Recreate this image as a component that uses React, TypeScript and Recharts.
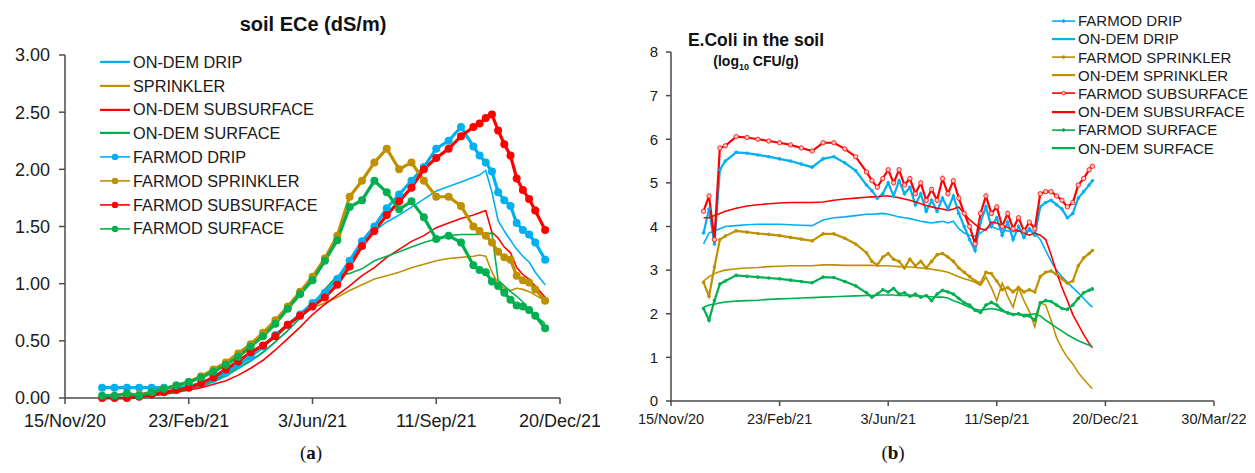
import React from 'react';
import { LineChart, Line, XAxis, YAxis } from 'recharts';

const FONT = '"Liberation Sans", Arial, sans-serif';
const BLUE = '#00B0F0';
const GOLD = '#BF9000';
const RED = '#FF0000';
const GREEN = '#00B050';
const AXIS = '#4a4a4a';

// ---- (a) soil ECe, dS/m  (day 0 = 15 Nov 2020) ----
const daysA = [30, 40, 50, 60, 70, 80, 90, 100, 110, 120, 130, 140, 150, 160, 170, 180, 190, 200, 210, 220, 230, 240, 250, 260, 270, 280, 290, 300, 310, 320, 330, 335, 340, 345, 350, 355, 360, 365, 370, 375, 380, 388];
const ecOnDemDrip = [0, 0, 0, 0.01, 0.02, 0.04, 0.06, 0.08, 0.10, 0.14, 0.19, 0.26, 0.32, 0.40, 0.49, 0.59, 0.70, 0.79, 0.88, 1.00, 1.15, 1.32, 1.46, 1.54, 1.60, 1.67, 1.74, 1.81, 1.85, 1.89, 1.93, 1.95, 1.99, 1.80, 1.55, 1.46, 1.38, 1.30, 1.24, 1.19, 1.10, 0.99];
const ecSprinkler = [0, 0, 0, 0.01, 0.02, 0.04, 0.06, 0.08, 0.12, 0.16, 0.21, 0.28, 0.36, 0.44, 0.55, 0.65, 0.73, 0.79, 0.83, 0.88, 0.94, 0.99, 1.04, 1.07, 1.10, 1.14, 1.17, 1.20, 1.22, 1.23, 1.24, 1.25, 1.24, 1.10, 1.00, 0.96, 0.94, 0.96, 0.95, 0.93, 0.90, 0.85];
const ecOnDemSub = [0, 0, 0, 0.01, 0.02, 0.03, 0.05, 0.07, 0.09, 0.12, 0.15, 0.20, 0.26, 0.33, 0.42, 0.52, 0.62, 0.73, 0.82, 0.90, 0.98, 1.07, 1.14, 1.23, 1.30, 1.37, 1.42, 1.49, 1.53, 1.57, 1.60, 1.62, 1.64, 1.45, 1.40, 1.32, 1.27, 1.14, 1.08, 1.04, 0.98, 0.88];
const ecOnDemSurf = [0, 0, 0, 0.01, 0.02, 0.04, 0.06, 0.08, 0.11, 0.15, 0.20, 0.26, 0.33, 0.40, 0.49, 0.59, 0.70, 0.82, 0.95, 1.07, 1.09, 1.13, 1.20, 1.24, 1.28, 1.32, 1.36, 1.39, 1.42, 1.43, 1.43, 1.43, 1.44, 1.44, 1.03, 0.98, 0.93, 0.89, 0.84, 0.77, 0.72, 0.65];
const ecFarmodDrip = [0.09, 0.09, 0.09, 0.09, 0.09, 0.09, 0.09, 0.10, 0.13, 0.17, 0.22, 0.29, 0.36, 0.45, 0.55, 0.64, 0.73, 0.83, 0.92, 1.04, 1.20, 1.37, 1.50, 1.66, 1.78, 1.90, 2.02, 2.18, 2.25, 2.37, 2.20, 2.12, 2.06, 1.98, 1.80, 1.73, 1.68, 1.53, 1.47, 1.43, 1.36, 1.21];
const ecFarmodSprinkler = [null, null, 0.01, 0.03, 0.05, 0.08, 0.11, 0.14, 0.19, 0.25, 0.31, 0.39, 0.47, 0.57, 0.68, 0.80, 0.93, 1.06, 1.22, 1.42, 1.76, 1.90, 2.06, 2.18, 2.00, 2.06, 1.90, 1.76, 1.76, 1.68, 1.50, 1.46, 1.42, 1.36, 1.28, 1.23, 1.21, 1.07, 1.03, 1.01, 0.95, 0.85];
const ecFarmodSub = [0, 0, 0, 0.01, 0.03, 0.05, 0.07, 0.09, 0.13, 0.18, 0.25, 0.32, 0.40, 0.46, 0.54, 0.64, 0.72, 0.80, 0.88, 0.99, 1.15, 1.33, 1.46, 1.60, 1.72, 1.84, 2.00, 2.10, 2.18, 2.29, 2.37, 2.40, 2.45, 2.48, 2.34, 2.22, 2.12, 1.92, 1.82, 1.74, 1.64, 1.47];
const ecFarmodSurf = [0.02, 0.02, 0.04, 0.02, 0.05, 0.08, 0.11, 0.14, 0.18, 0.23, 0.29, 0.36, 0.45, 0.54, 0.65, 0.78, 0.91, 1.03, 1.20, 1.38, 1.67, 1.73, 1.90, 1.80, 1.65, 1.72, 1.58, 1.39, 1.42, 1.36, 1.16, 1.12, 1.10, 1.02, 0.98, 0.92, 0.86, 0.81, 0.80, 0.77, 0.72, 0.61];

const ticksA = [0, 100, 200, 300, 400];
const tickLabelsA = ['15/Nov/20', '23/Feb/21', '3/Jun/21', '11/Sep/21', '20/Dec/21'];
const yTicksA = [0, 0.5, 1, 1.5, 2, 2.5, 3];

// ---- (b) E.Coli in the soil, log10 CFU/g ----
const daysB = [30, 35, 40, 45, 50, 60, 70, 80, 90, 100, 110, 120, 130, 140, 150, 160, 170, 180, 185, 190, 195, 200, 205, 210, 215, 220, 225, 230, 235, 240, 245, 250, 255, 260, 265, 270, 275, 280, 285, 290, 295, 300, 305, 310, 315, 320, 325, 330, 335, 340, 345, 350, 355, 360, 365, 370, 375, 380, 385, 388];
const coliFarmodDrip = [3.85, 4.4, 3.6, 5.3, 5.5, 5.70, 5.68, 5.64, 5.60, 5.55, 5.50, 5.43, 5.36, 5.55, 5.60, 5.46, 5.28, 4.95, 4.82, 4.65, 4.75, 5.0, 4.7, 5.05, 4.75, 4.9, 4.5, 4.75, 4.35, 4.6, 4.35, 4.65, 4.4, 4.7, 4.3, 4.0, 3.7, 3.45, 4.1, 4.45, 4.0, 4.2, 3.8, 4.1, 3.7, 4.0, 3.75, 3.95, 3.8, 4.45, 4.55, 4.6, 4.5, 4.4, 4.2, 4.3, 4.65, 4.8, 4.95, 5.05];
const coliOnDemDrip = [3.6, 3.85, 3.9, 3.95, 4.0, 4.02, 4.04, 4.05, 4.05, 4.05, 4.04, 4.03, 4.02, 4.15, 4.2, 4.22, 4.25, 4.28, 4.28, 4.29, 4.3, 4.28, 4.25, 4.22, 4.2, 4.18, 4.15, 4.12, 4.1, 4.08, 4.1, 4.12, 4.08, 4.12, 3.95, 3.85, 3.8, 3.78, 3.85, 3.95, 4.0, 3.95, 3.92, 3.9, 3.88, 3.9, 3.92, 3.9, 3.85, 3.7, 3.45, 3.2, 3.0, 2.85, 2.72, 2.6, 2.48, 2.35, 2.22, 2.15];
const coliFarmodSprinkler = [2.72, 2.4, 3.07, 3.7, 3.78, 3.9, 3.87, 3.84, 3.82, 3.79, 3.75, 3.71, 3.67, 3.83, 3.83, 3.73, 3.6, 3.4, 3.2, 3.12, 3.3, 3.38, 3.25, 3.2, 3.05, 3.25, 3.1, 3.2, 3.05, 3.2, 3.35, 3.38, 3.3, 3.2, 3.05, 2.95, 2.85, 2.75, 2.7, 2.95, 2.92, 2.75, 2.55, 2.6, 2.5, 2.6, 2.5, 2.55, 2.5, 2.85, 2.95, 2.98, 2.9, 2.8, 2.7, 2.75, 3.1, 3.28, 3.38, 3.45];
const coliOnDemSprinkler = [2.75, 2.85, 2.92, 2.97, 3.0, 3.03, 3.05, 3.06, 3.08, 3.09, 3.1, 3.1, 3.1, 3.12, 3.12, 3.11, 3.11, 3.11, 3.11, 3.1, 3.1, 3.1, 3.09, 3.08, 3.07, 3.07, 3.06, 3.05, 3.04, 3.02, 3.0, 2.98, 2.95, 2.9, 2.85, 2.8, 2.77, 2.72, 2.65, 2.84, 2.6, 2.3, 2.7, 2.4, 2.15, 2.6, 2.3, 2.05, 1.7, 2.25, 2.2, 1.85, 1.45, 1.2, 1.0, 0.85, 0.65, 0.5, 0.36, 0.28];
const coliFarmodSub = [4.35, 4.7, 3.7, 5.8, 5.85, 6.06, 6.04, 6.0, 5.96, 5.92, 5.87, 5.80, 5.73, 5.92, 5.92, 5.78, 5.60, 5.25, 5.05, 4.9, 5.1, 5.3, 5.0, 5.3, 4.95, 5.1, 4.75, 5.0, 4.6, 4.85, 4.6, 5.1, 4.75, 5.05, 4.65, 4.3, 4.0, 3.6, 4.3, 4.7, 4.3, 4.45, 4.0, 4.3, 3.95, 4.2, 3.9, 4.1, 3.95, 4.75, 4.8, 4.8, 4.7, 4.6, 4.45, 4.55, 4.95, 5.1, 5.3, 5.38];
const coliOnDemSub = [4.2, 4.2, 4.25, 4.3, 4.35, 4.42, 4.47, 4.5, 4.52, 4.54, 4.55, 4.55, 4.55, 4.56, 4.6, 4.63, 4.65, 4.67, 4.68, 4.68, 4.7, 4.7, 4.68, 4.66, 4.63, 4.6, 4.56, 4.52, 4.48, 4.45, 4.42, 4.4, 4.37, 4.4, 4.45, 4.3, 4.15, 4.05, 3.95, 3.92, 4.1, 4.08, 4.02, 3.98, 3.92, 3.9, 3.85, 3.8, 3.85, 3.8, 3.7, 3.35, 2.95, 2.6, 2.3, 1.98, 1.75, 1.52, 1.32, 1.22];
const coliFarmodSurf = [2.12, 1.85, 2.3, 2.68, 2.75, 2.88, 2.86, 2.84, 2.82, 2.8, 2.77, 2.74, 2.71, 2.84, 2.83, 2.74, 2.64, 2.48, 2.38, 2.45, 2.55, 2.5, 2.58, 2.45, 2.48, 2.4, 2.45, 2.38, 2.42, 2.3, 2.45, 2.54, 2.5, 2.45, 2.35, 2.25, 2.2, 2.08, 2.03, 2.2, 2.26, 2.2, 2.08, 2.02, 1.98, 2.0, 1.95, 1.95, 1.85, 2.25, 2.3, 2.28, 2.2, 2.12, 2.1, 2.2, 2.35, 2.48, 2.54, 2.57];
const coliOnDemSurf = [2.15, 2.2, 2.22, 2.25, 2.27, 2.29, 2.3, 2.31, 2.33, 2.34, 2.35, 2.36, 2.37, 2.38, 2.39, 2.4, 2.41, 2.42, 2.42, 2.43, 2.43, 2.43, 2.43, 2.42, 2.42, 2.42, 2.41, 2.4, 2.4, 2.39, 2.38, 2.38, 2.36, 2.3, 2.26, 2.2, 2.15, 2.1, 2.08, 2.1, 2.12, 2.1, 2.06, 2.02, 2.0, 1.98, 1.98, 1.98, 2.0, 1.95, 1.85, 1.77, 1.68, 1.6, 1.52, 1.45, 1.38, 1.33, 1.28, 1.25];

const ticksB = [0, 100, 200, 300, 400, 500];
const tickLabelsB = ['15/Nov/20', '23/Feb/21', '3/Jun/21', '11/Sep/21', '20/Dec/21', '30/Mar/22'];
const yTicksB = [0, 1, 2, 3, 4, 5, 6, 7, 8];

type Series = { key: string; name: string; color: string; farmod: boolean; values: (number | null)[] };

const seriesA: Series[] = [
  { key: 'od', name: 'ON-DEM DRIP', color: BLUE, farmod: false, values: ecOnDemDrip },
  { key: 'sp', name: 'SPRINKLER', color: GOLD, farmod: false, values: ecSprinkler },
  { key: 'os', name: 'ON-DEM SUBSURFACE', color: RED, farmod: false, values: ecOnDemSub },
  { key: 'osu', name: 'ON-DEM SURFACE', color: GREEN, farmod: false, values: ecOnDemSurf },
  { key: 'fd', name: 'FARMOD DRIP', color: BLUE, farmod: true, values: ecFarmodDrip },
  { key: 'fsp', name: 'FARMOD SPRINKLER', color: GOLD, farmod: true, values: ecFarmodSprinkler },
  { key: 'fs', name: 'FARMOD SUBSURFACE', color: RED, farmod: true, values: ecFarmodSub },
  { key: 'fsu', name: 'FARMOD SURFACE', color: GREEN, farmod: true, values: ecFarmodSurf },
];

const seriesB: Series[] = [
  { key: 'fd', name: 'FARMOD DRIP', color: BLUE, farmod: true, values: coliFarmodDrip },
  { key: 'od', name: 'ON-DEM DRIP', color: BLUE, farmod: false, values: coliOnDemDrip },
  { key: 'fsp', name: 'FARMOD SPRINKLER', color: GOLD, farmod: true, values: coliFarmodSprinkler },
  { key: 'osp', name: 'ON-DEM SPRINKLER', color: GOLD, farmod: false, values: coliOnDemSprinkler },
  { key: 'fs', name: 'FARMOD SUBSURFACE', color: RED, farmod: true, values: coliFarmodSub },
  { key: 'os', name: 'ON-DEM SUBSURFACE', color: RED, farmod: false, values: coliOnDemSub },
  { key: 'fsu', name: 'FARMOD SURFACE', color: GREEN, farmod: true, values: coliFarmodSurf },
  { key: 'osu', name: 'ON-DEM SURFACE', color: GREEN, farmod: false, values: coliOnDemSurf },
];

const buildRows = (days: number[], series: Series[]) =>
  days.map((day, i) => {
    const row: Record<string, number | null> = { day };
    series.forEach((s) => (row[s.key] = s.values[i]));
    return row;
  });

const rowsA = buildRows(daysA, seriesA);
const rowsB = buildRows(daysB, seriesB);

// legend drawn beside the plot: line sample + optional marker + name
function SeriesKey({ items, left, top, rowH, fontSize, lineLen, markerR, hollowRed }: {
  items: Series[]; left: number; top: number; rowH: number; fontSize: number; lineLen: number; markerR: number; hollowRed?: boolean;
}) {
  return (
    <div style={{ position: 'absolute', left, top, fontFamily: FONT, fontSize, color: '#1a1a1a' }}>
      {items.map((s, i) => (
        <div key={s.key} style={{ position: 'absolute', left: 0, top: i * rowH, height: rowH, display: 'flex', alignItems: 'center', whiteSpace: 'nowrap' }}>
          <svg width={lineLen} height={rowH} style={{ display: 'block' }}>
            <line x1={0} x2={lineLen} y1={rowH / 2} y2={rowH / 2} stroke={s.color} strokeWidth={s.farmod ? 1.6 : 2.2} />
            {s.farmod && (hollowRed && s.color === RED ? (
              <circle cx={lineLen / 2} cy={rowH / 2} r={markerR} fill="#ffc0c0" stroke={s.color} strokeWidth={0.8} />
            ) : (
              <circle cx={lineLen / 2} cy={rowH / 2} r={markerR} fill={s.color} />
            ))}
          </svg>
          <span style={{ marginLeft: 3, lineHeight: 1 }}>{s.name}</span>
        </div>
      ))}
    </div>
  );
}

export default function App() {
  return (
    <div style={{ position: 'absolute', left: 0, top: 0, width: 1255, height: 473, background: '#fff', fontFamily: FONT }}>
      {/* (a) */}
      <div style={{ position: 'absolute', left: 0, top: 0 }}>
        <LineChart width={600} height={440} data={rowsA} margin={{ top: 55, right: 40, left: 0, bottom: 12 }}>
          <XAxis
            dataKey="day" type="number" domain={[0, 400]} ticks={ticksA} interval={0} height={30}
            tickFormatter={(v: number) => tickLabelsA[ticksA.indexOf(v)]}
            tick={{ fontSize: 18, fill: '#1a1a1a', fontFamily: FONT }}
            axisLine={{ stroke: AXIS, strokeWidth: 1.5 }} tickLine={{ stroke: AXIS, strokeWidth: 1.5 }}
            tickSize={6} tickMargin={10}
          />
          <YAxis
            type="number" domain={[0, 3]} ticks={yTicksA} interval={0} width={65}
            tickFormatter={(v: number) => v.toFixed(2)}
            tick={{ fontSize: 18, fill: '#1a1a1a', fontFamily: FONT }}
            axisLine={{ stroke: AXIS, strokeWidth: 1.5 }} tickLine={{ stroke: AXIS, strokeWidth: 1.5 }}
            tickSize={6} tickMargin={9}
          />
          {seriesA.map((s) => (
            <Line
              key={s.key} dataKey={s.key} name={s.name} stroke={s.color} type="linear"
              strokeWidth={s.farmod ? 3.2 : 1.6}
              dot={s.farmod ? { r: 4, fill: s.color, stroke: s.color, strokeWidth: 0 } : false}
              activeDot={false} isAnimationActive={false}
            />
          ))}
        </LineChart>
        <SeriesKey items={seriesA} left={100} top={50} rowH={23.8} fontSize={16.3} lineLen={30} markerR={3.2} />
        <div style={{ position: 'absolute', left: 163, width: 300, top: 14, textAlign: 'center', fontSize: 20, lineHeight: '20px', fontWeight: 700, color: '#111' }}>
          soil ECe (dS/m)
        </div>
      </div>

      {/* (b) */}
      <div style={{ position: 'absolute', left: 600, top: 0 }}>
        <LineChart width={655} height={440} data={rowsB} margin={{ top: 52, right: 41, left: 0, bottom: 9 }}>
          <XAxis
            dataKey="day" type="number" domain={[0, 500]} ticks={ticksB} interval={0} height={30}
            tickFormatter={(v: number) => tickLabelsB[ticksB.indexOf(v)]}
            tick={{ fontSize: 14.5, fill: '#1a1a1a', fontFamily: FONT }}
            axisLine={{ stroke: AXIS, strokeWidth: 1.5 }} tickLine={{ stroke: AXIS, strokeWidth: 1.5 }}
            tickSize={5} tickMargin={8}
          />
          <YAxis
            type="number" domain={[0, 8]} ticks={yTicksB} interval={0} width={71}
            tick={{ fontSize: 15, fill: '#1a1a1a', fontFamily: FONT }}
            axisLine={{ stroke: AXIS, strokeWidth: 1.5 }} tickLine={{ stroke: AXIS, strokeWidth: 1.5 }}
            tickSize={5} tickMargin={8}
          />
          {seriesB.map((s) => (
            <Line
              key={s.key} dataKey={s.key} name={s.name} stroke={s.color} type="linear"
              strokeWidth={s.farmod ? 2.2 : 1.6}
              dot={
                s.farmod
                  ? s.color === RED
                    ? { r: 2.2, fill: '#ffc0c0', stroke: s.color, strokeWidth: 0.8 }
                    : { r: 1.8, fill: s.color, stroke: s.color, strokeWidth: 0 }
                  : false
              }
              activeDot={false} isAnimationActive={false}
            />
          ))}
        </LineChart>
        <SeriesKey items={seriesB} left={452} top={11.6} rowH={18.2} fontSize={15} lineLen={23} markerR={1.8} hollowRed />
        <div style={{ position: 'absolute', left: 56, width: 200, top: 31, textAlign: 'center', fontSize: 17.5, lineHeight: '18px', fontWeight: 700, color: '#111' }}>
          E.Coli in the soil
        </div>
        <div style={{ position: 'absolute', left: 56, width: 200, top: 53, textAlign: 'center', fontSize: 14, lineHeight: '16px', fontWeight: 700, color: '#111' }}>
          (log<sub style={{ fontSize: 9 }}>10</sub> CFU/g)
        </div>
      </div>

      {/* panel captions */}
      <div style={{ position: 'absolute', left: 261, width: 100, top: 443, textAlign: 'center', fontFamily: '"Liberation Serif", "DejaVu Serif", serif', fontSize: 19, lineHeight: '20px', color: '#111' }}>
        (<b>a</b>)
      </div>
      <div style={{ position: 'absolute', left: 843, width: 100, top: 443, textAlign: 'center', fontFamily: '"Liberation Serif", "DejaVu Serif", serif', fontSize: 19, lineHeight: '20px', color: '#111' }}>
        (<b>b</b>)
      </div>
    </div>
  );
}
